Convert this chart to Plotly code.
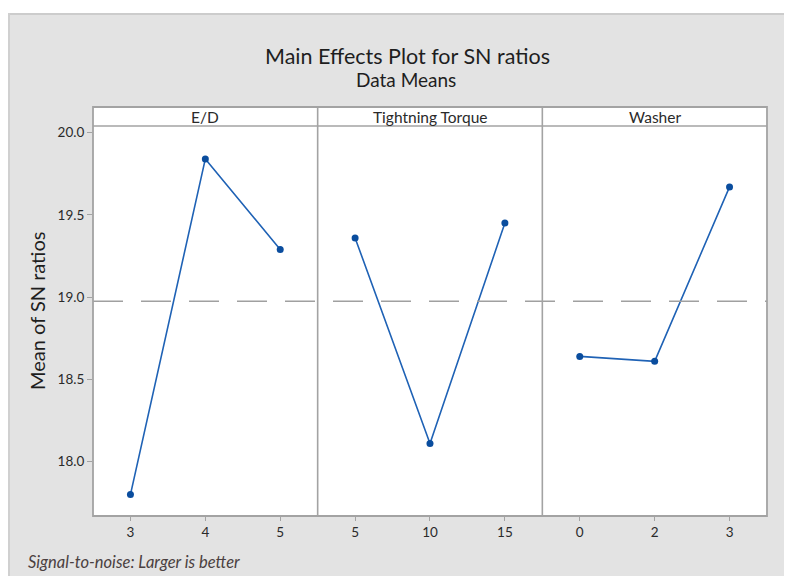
import plotly.graph_objects as go
from plotly.subplots import make_subplots

factors = ["E/D", "Tightning Torque", "Washer"]
ed_levels = ["3", "4", "5"]
ed_means = [17.80, 19.84, 19.29]
torque_levels = ["5", "10", "15"]
torque_means = [19.36, 18.11, 19.45]
washer_levels = ["0", "2", "3"]
washer_means = [18.64, 18.61, 19.67]
overall_mean = 18.975
y_ticks = [18.0, 18.5, 19.0, 19.5, 20.0]

# page offset (browser body margin)
OFF = 8
W, H = 792, 576
ML, MR, MT, MB = 93 - OFF, W - (767 - OFF), 126 - OFF, H - (516 - OFF)
PW = W - ML - MR
PH = H - MT - MB


def px_x(p):  # page pixel -> paper x
    return (p - OFF - ML) / PW


def px_y(p):  # page pixel -> paper y
    return (H - MB - (p - OFF)) / PH


FONT = "Lato"
LINE_C = "#1f62b5"
MARK_C = "#0a4d9e"
FRAME_C = "#a3a3a3"
BG = "#e3e3e3"
TXT = "#2a2a2a"

fig = make_subplots(rows=1, cols=3, shared_yaxes=True, horizontal_spacing=0)

levels = [ed_levels, torque_levels, washer_levels]
means = [ed_means, torque_means, washer_means]
for i in range(3):
    fig.add_trace(go.Scatter(
        x=levels[i], y=means[i], mode="lines+markers",
        line=dict(color=LINE_C, width=1.6),
        marker=dict(color=MARK_C, size=7, symbol="circle"),
        showlegend=False, hoverinfo="skip"), row=1, col=i + 1)

for i in range(3):
    fig.update_xaxes(type="category", range=[-0.5, 2.5], showline=False,
                     showgrid=False, zeroline=False,
                     ticks="outside", ticklen=4, tickcolor=FRAME_C, tickwidth=1,
                     tickfont=dict(family=FONT, size=13.5, color=TXT),
                     row=1, col=i + 1)
    fig.update_yaxes(range=[17.67, 20.04], showline=False,
                     showgrid=False, zeroline=False,
                     tickvals=y_ticks, tickformat=".1f",
                     row=1, col=i + 1)
fig.update_yaxes(ticks="outside", ticklen=5, tickcolor=FRAME_C, tickwidth=1,
                 tickfont=dict(family=FONT, size=13.5, color=TXT), row=1, col=1)

shapes = []
# white margins at top and left of the page
shapes.append(dict(type="rect", xref="paper", yref="paper", x0=px_x(-20), x1=px_x(W + 20),
                   y0=px_y(13), y1=px_y(-20), fillcolor="white", line=dict(width=0), layer="below"))
shapes.append(dict(type="rect", xref="paper", yref="paper", x0=px_x(-20), x1=px_x(8),
                   y0=px_y(H + 20), y1=px_y(-20), fillcolor="white", line=dict(width=0), layer="below"))
shapes.append(dict(type="line", xref="paper", yref="paper", x0=px_x(8), x1=px_x(W + 20),
                   y0=px_y(14), y1=px_y(14), line=dict(color="#cccccc", width=2), layer="below"))
shapes.append(dict(type="line", xref="paper", yref="paper", x0=px_x(9), x1=px_x(9),
                   y0=px_y(13), y1=px_y(H + 20), line=dict(color="#d0d0d0", width=2), layer="below"))
# strip headers
strip_top = px_y(107)
shapes.append(dict(type="rect", xref="paper", yref="paper", x0=0, x1=1,
                   y0=1, y1=strip_top, fillcolor="white", line=dict(width=0), layer="below"))
# reference line
shapes.append(dict(type="line", xref="paper", yref="y", x0=0, x1=1,
                   y0=overall_mean, y1=overall_mean,
                   line=dict(color="#a0a0a0", width=1.6, dash="30px,18px")))
# frames
shapes.append(dict(type="rect", xref="paper", yref="paper", x0=0, x1=1, y0=0, y1=strip_top,
                   line=dict(color=FRAME_C, width=1.8)))
shapes.append(dict(type="line", xref="paper", yref="paper", x0=0, x1=1, y0=1, y1=1,
                   line=dict(color=FRAME_C, width=1.6)))
for k in (1, 2):
    shapes.append(dict(type="line", xref="paper", yref="paper", x0=k / 3, x1=k / 3,
                       y0=0, y1=strip_top, line=dict(color=FRAME_C, width=1.6)))

annotations = []
for i in range(3):
    annotations.append(dict(text=factors[i], xref="paper", yref="paper",
                            x=(i + 0.5) / 3, y=(1 + strip_top) / 2, showarrow=False,
                            xanchor="center", yanchor="middle",
                            font=dict(family=FONT, size=15.5, color=TXT)))
annotations.append(dict(text="Main Effects Plot for SN ratios", xref="paper", yref="paper",
                        x=px_x(407.5), y=px_y(56), showarrow=False, xanchor="center",
                        yanchor="middle", font=dict(family=FONT, size=21.5, color="#1e1e1e")))
annotations.append(dict(text="Data Means", xref="paper", yref="paper",
                        x=px_x(405.5), y=px_y(79), showarrow=False, xanchor="center",
                        yanchor="middle", font=dict(family=FONT, size=19, color="#1e1e1e")))
annotations.append(dict(text="Mean of SN ratios", xref="paper", yref="paper",
                        x=px_x(37), y=px_y(311), showarrow=False, textangle=-90,
                        xanchor="center", yanchor="middle",
                        font=dict(family=FONT, size=20, color="#1e1e1e")))
annotations.append(dict(text="<i>Signal-to-noise: Larger is better</i>", xref="paper",
                        yref="paper", x=px_x(26), y=px_y(562), showarrow=False,
                        xanchor="left", yanchor="middle",
                        font=dict(family=FONT, size=16.5, color="#4a4040")))

fig.update_layout(width=W, height=H, margin=dict(l=ML, r=MR, t=MT, b=MB),
                  paper_bgcolor=BG, plot_bgcolor="white",
                  shapes=shapes, annotations=annotations, showlegend=False)

fig.write_html("out.html")
